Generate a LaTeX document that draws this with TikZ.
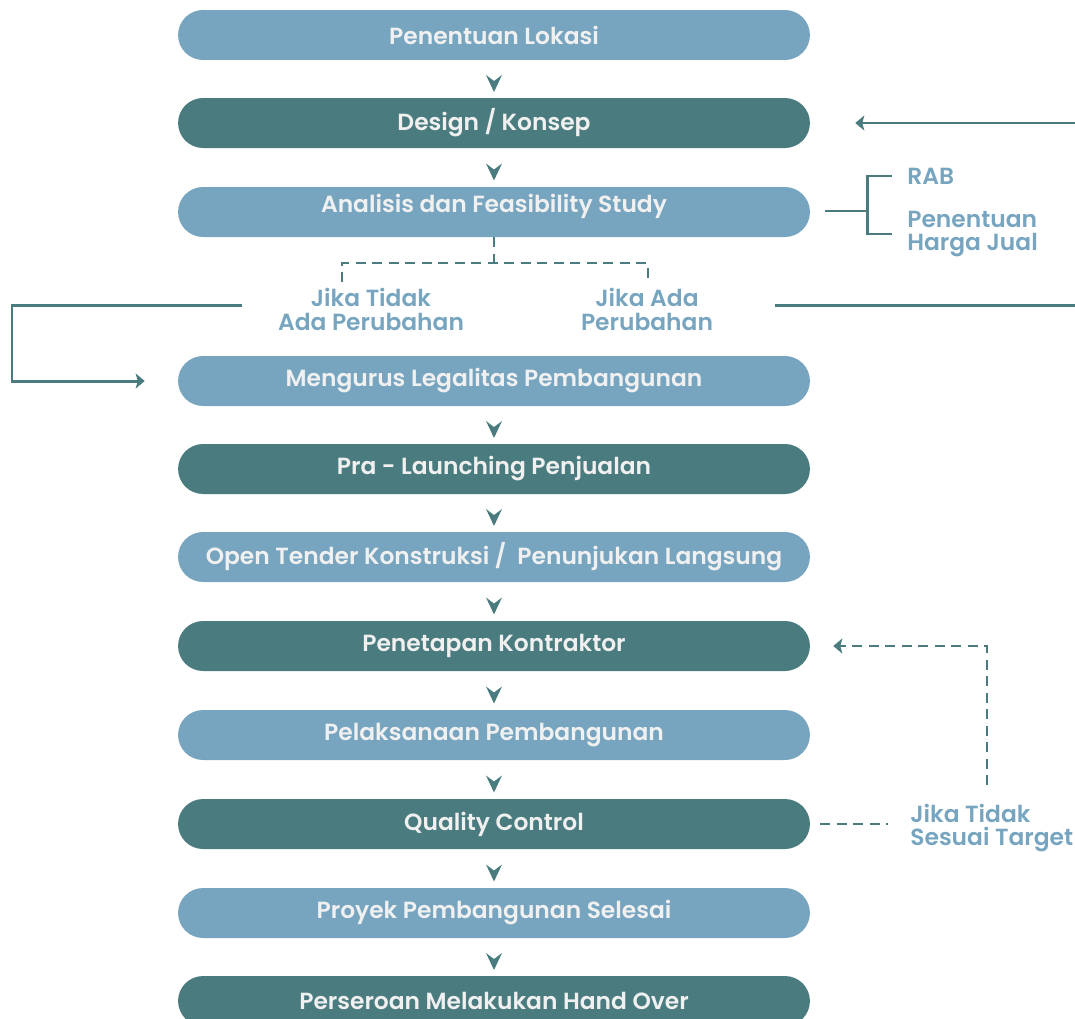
\documentclass[tikz,border=0pt]{standalone}
\usepackage{fontspec}
\setmainfont{Poppins}[BoldFont={Poppins SemiBold}]
\usetikzlibrary{arrows.meta,calc}
\definecolor{lblue}{HTML}{77A5C0}
\definecolor{dteal}{HTML}{4A7C7F}
\definecolor{boxtxt}{HTML}{F0F0F0}
\tikzset{
	stepbox/.style={minimum width=12.64cm, minimum height=1cm, rounded corners=0.5cm, inner sep=0pt, text=boxtxt, font=\bfseries\fontsize{13.3}{14}\selectfont},
	lightbox/.style={stepbox, fill=lblue},
	darkbox/.style={stepbox, fill=dteal},
	note/.style={inner sep=0pt, text=lblue, font=\bfseries\fontsize{13.3}{13.6}\selectfont},
	link/.style={draw=dteal, line width=1.7pt},
	dlink/.style={link, line width=1.5pt, dash pattern=on 0.2cm off 0.13cm},
	tip/.style={-{Stealth[length=0.18cm, width=0.3cm, inset=0.04cm]}}
}
\begin{document}
\begin{tikzpicture}[x=0.02cm, y=-0.02cm]
		%%%%% START %%%%%
		\useasboundingbox (0, 0) rectangle (1075, 1018);
		\clip (0, 0) rectangle (1075, 1018);
		
		\node[lightbox] (b1) at (494, 35) {Penentuan Lokasi};
		\node[darkbox] (b2) at (494, 123) {Design / Konsep};
		\node[lightbox, text depth=0.36cm] (b3) at (494, 212) {Analisis dan Feasibility Study};
		\node[lightbox] (b4) at (494, 381) {Mengurus Legalitas Pembangunan};
		\node[darkbox] (b5) at (494, 469) {Pra - Launching Penjualan};
		\node[lightbox] (b6) at (494, 557) {Open Tender Konstruksi /\ \ Penunjukan Langsung};
		\node[darkbox] (b7) at (494, 646) {Penetapan Kontraktor};
		\node[lightbox] (b8) at (494, 735) {Pelaksanaan Pembangunan};
		\node[darkbox] (b9) at (494, 824) {Quality Control};
		\node[lightbox] (b10) at (494, 913) {Proyek Pembangunan Selesai};
		\node[darkbox] (b11) at (494, 1001) {Perseroan Melakukan Hand Over};
		
		% chevrons between the steps
		\foreach \a/\b in {b1/b2, b2/b3, b4/b5, b5/b6, b6/b7, b7/b8, b8/b9, b9/b10, b10/b11}
			\fill[dteal] ($(\a.south)!0.5!(\b.north)$) +(-8, -4) -- +(0, 2) -- +(8, -4) -- +(0, 13) -- cycle;
		
		% RAB bracket
		\node[note, anchor=west] (rab) at (907, 176) {RAB};
		\node[note, anchor=west, align=left] (harga) at (907, 234) {Penentuan\\Harga Jual};
		\coordinate (brk) at (867, 211);
		\draw[link] ([xshift=0.3cm]b3.east |- brk) -- (brk);
		\draw[link] (brk) |- ([xshift=-0.3cm]rab.west);
		\draw[link] (brk) |- ([xshift=-0.3cm]harga.west);
		
		% split after feasibility
		\node[note, align=center] (tidak) at (371, 309) {Jika Tidak\\Ada Perubahan};
		\node[note, align=center] (ada) at (647, 309) {Jika Ada\\Perubahan};
		\coordinate (split) at (494, 263);
		\coordinate (dl) at (342, 282);
		\coordinate (dr) at (648, 282);
		\draw[dlink] (b3.south) -- (split);
		\draw[dlink] (dl) |- (split) -| (dr);
		
		% no change: go on to legalitas
		\coordinate (lstart) at (242, 305);
		\draw[link, tip] (lstart) -- (12, 305) |- ([xshift=-0.66cm]b4.west);
		
		% change: back to design
		\coordinate (rstart) at (775, 305);
		\draw[link, tip] (rstart) -- (1090, 305) |- ([xshift=0.9cm]b2.east);
		
		% quality control loop
		\node[note, anchor=west, align=left] (sesuai) at (910, 828) {Jika Tidak\\Sesuai Target};
		\coordinate (qup) at (987, 785);
		\draw[dlink] ([xshift=0.2cm]b9.east) -- ([xshift=-0.44cm]sesuai.west |- b9.east);
		\draw[dlink, tip] (qup) |- ([xshift=0.46cm]b7.east);
		
		%%%%% END %%%%%
	\end{tikzpicture}
\end{document}
